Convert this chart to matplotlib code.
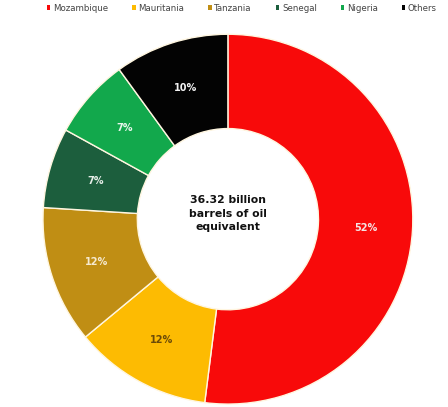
import matplotlib.pyplot as plt

countries = ["Mozambique", "Mauritania", "Tanzania", "Senegal", "Nigeria", "Others"]
shares = [52, 12, 12, 7, 7, 10]
colors = ["#F80A0A", "#FDBB02", "#C08E14", "#1C5E3D", "#12A84C", "#030303"]
label_colors = ["#F4E4E4", "#6A4A08", "#F6EAD0", "#E6EEE8", "#E8F6EC", "#F2F2F2"]
center_text = "36.32 billion\nbarrels of oil\nequivalent"

fig = plt.figure(figsize=(4.48, 4.07), dpi=100)
ax = fig.add_axes([0.0877, -0.002, 0.842, 0.927])
ax.set_aspect("equal")

wedges, texts, autotexts = ax.pie(
    shares, colors=colors, startangle=90, counterclock=False,
    autopct="%d%%", pctdistance=0.745,
    wedgeprops=dict(width=0.51, edgecolor="#FFF6E0", linewidth=1.0),
    textprops=dict(fontsize=7, fontweight="bold"),
)
for t, c in zip(autotexts, label_colors):
    t.set_color(c)
ax.set_xlim(-1.02, 1.02)
ax.set_ylim(-1.02, 1.02)

ax.text(0, 0.03, center_text, ha="center", va="center", fontsize=7.8,
        fontweight="bold", color="#111111", linespacing=1.45)

leg = fig.legend(wedges, countries, loc="upper center", bbox_to_anchor=(0.54, 1.01),
                 ncol=6, frameon=False, fontsize=6.2, handlelength=0.4, handleheight=0.4,
                 handletextpad=0.3, columnspacing=2.8, labelcolor="#444444")
for h in leg.legend_handles:
    h.set_linewidth(0)

fig.savefig("out.png", dpi=100, facecolor="white")
